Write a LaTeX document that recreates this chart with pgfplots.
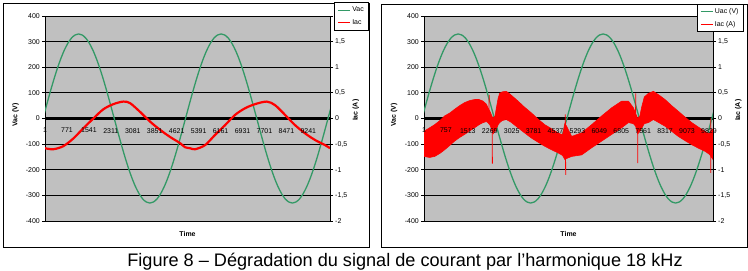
\documentclass[border=0pt]{standalone}
\usepackage{fontspec}
\setmainfont{Liberation Sans}
\usepackage{pgfplots}
\pgfplotsset{compat=1.18}
\usepackage{pgfplotstable}
\definecolor{plotgray}{RGB}{192,192,192}
\definecolor{vgreen}{RGB}{51,153,102}
\definecolor{ired}{RGB}{255,0,0}

\pgfplotstableread{
n v
-70 0
55 51.6
180 102.0
305 149.8
430 194.0
555 233.3
680 267.0
805 294.0
930 313.9
1055 325.9
1180 330
1305 325.9
1430 313.9
1555 294.0
1680 267.0
1805 233.3
1930 194.0
2055 149.8
2180 102.0
2305 51.6
2430 0
2555 -51.6
2680 -102.0
2805 -149.8
2930 -194.0
3055 -233.3
3180 -267.0
3305 -294.0
3430 -313.9
3555 -325.9
3680 -330
3805 -325.9
3930 -313.9
4055 -294.0
4180 -267.0
4305 -233.3
4430 -194.0
4555 -149.8
4680 -102.0
4805 -51.6
4930 0
5055 51.6
5180 102.0
5305 149.8
5430 194.0
5555 233.3
5680 267.0
5805 294.0
5930 313.9
6055 325.9
6180 330
6305 325.9
6430 313.9
6555 294.0
6680 267.0
6805 233.3
6930 194.0
7055 149.8
7180 102.0
7305 51.6
7430 0
7555 -51.6
7680 -102.0
7805 -149.8
7930 -194.0
8055 -233.3
8180 -267.0
8305 -294.0
8430 -313.9
8555 -325.9
8680 -330
8805 -325.9
8930 -313.9
9055 -294.0
9180 -267.0
9305 -233.3
9430 -194.0
9555 -149.8
9680 -102.0
9805 -51.6
9930 0
10055 51.6
}\greendata

\pgfplotstableread{
n i
0 -0.58
293 -0.60
643 -0.54
995 -0.39
1346 -0.19
1697 0.0
2048 0.18
2399 0.28
2750 0.33
2984 0.30
3335 0.13
3686 -0.06
4037 -0.22
4388 -0.36
4739 -0.48
4914 -0.56
5090 -0.58
5265 -0.60
5616 -0.52
5967 -0.32
6318 -0.13
6669 0.07
7020 0.20
7371 0.28
7781 0.33
8073 0.26
8424 0.07
8775 -0.13
9126 -0.29
9477 -0.42
9828 -0.52
10000 -0.58
}\redleft

% band of the right current: upper envelope forward, lower envelope back
\pgfplotstableread{
n i
0 -0.25
200 -0.18
370 -0.12
550 -0.04
713 0.05
900 0.11
1058 0.18
1230 0.25
1403 0.31
1580 0.35
1748 0.37
1900 0.37
2036 0.34
2150 0.28
2208 0.21
2290 0.12
2380 0.00
2450 0.05
2496 0.20
2560 0.40
2611 0.49
2700 0.52
2841 0.53
3000 0.46
3243 0.34
3470 0.22
3703 0.11
3930 -0.01
4163 -0.12
4400 -0.20
4623 -0.28
4780 -0.32
4860 -0.10
4920 -0.15
5095 -0.35
5440 -0.28
5785 -0.12
6131 0.05
6476 0.21
6821 0.34
7051 0.34
7223 0.21
7300 0.10
7372 0.00
7450 0.05
7500 0.20
7600 0.42
7740 0.49
7913 0.53
8100 0.46
8315 0.37
8545 0.25
8775 0.14
9000 0.03
9236 -0.08
9470 -0.17
9695 -0.25
9850 -0.30
9970 -0.20
9970 -0.80
9850 -0.70
9695 -0.64
9470 -0.58
9236 -0.51
9000 -0.43
8775 -0.35
8545 -0.25
8315 -0.15
8100 -0.08
7913 -0.02
7740 -0.08
7600 -0.10
7500 -0.20
7450 -0.25
7372 -0.30
7300 -0.15
7223 -0.10
7051 -0.08
6821 -0.18
6476 -0.31
6131 -0.44
5785 -0.57
5440 -0.71
5095 -0.74
4920 -0.78
4860 -0.80
4780 -0.72
4623 -0.67
4400 -0.61
4163 -0.54
3930 -0.46
3703 -0.38
3470 -0.28
3243 -0.18
3000 -0.07
2841 -0.02
2700 -0.04
2611 -0.08
2560 -0.12
2496 -0.20
2450 -0.25
2380 -0.30
2290 -0.14
2208 -0.08
2150 -0.06
2036 -0.08
1900 -0.12
1748 -0.18
1580 -0.24
1403 -0.31
1230 -0.37
1058 -0.44
900 -0.52
713 -0.61
550 -0.68
370 -0.74
200 -0.76
0 -0.74
}\bandright

\pgfplotsset{
  chartV/.style={
    scale only axis, height=205bp,
    ymin=-400, ymax=400,
    ytick={-400,-300,-200,-100,0,100,200,300,400},
    yticklabels={-400,-300,-200,-100,0,100,200,300,400},
    axis x line=middle, axis y line=left,
    axis line style={-, black, line width=0.8bp},
    every inner x axis line/.append style={-},
    every outer y axis line/.append style={-},
    x axis line style={line width=2.3bp},
    axis background/.style={fill=plotgray},
    ymajorgrids, grid style={black, line width=0.8bp},
    tick align=outside, major tick length=3bp,
    xtick=\empty, xticklabels={},
    ytick style={black, line width=0.8bp},
    tick label style={font=\fontsize{7}{8}\selectfont},
    yticklabel style={inner sep=0pt, anchor=east, xshift=-2bp},
    hide obscured x ticks=false, hide obscured y ticks=false,
    scaled ticks=false,
    every axis x label/.style={at={(axis description cs:0.5,-0.065)}, anchor=center, font=\fontsize{7}{8}\selectfont\bfseries},
    every axis y label/.style={at={(axis description cs:-0.1035,0.517)}, anchor=center, rotate=90, font=\fontsize{7}{8}\selectfont\bfseries},
    xlabel={Time}, ylabel={Vac (V)},
  },
  chartI/.style={
    scale only axis, height=205bp, axis on top,
    ymin=-2, ymax=2,
    ytick={-2,-1.5,-1,-0.5,0,0.5,1,1.5,2},
    yticklabels={-2,{-1,5},-1,{-0,5},0,{0,5},1,{1,5},{}},
    axis y line*=right, axis x line*=middle,
    axis line style={-, black, line width=0.8bp},
    every outer y axis line/.append style={-},
    every inner x axis line/.append style={draw=none},
    x axis line style={draw=none},
    tick align=outside, major tick length=3bp,
    ytick style={black, line width=0.8bp},
    xtick style={draw=none},
    scaled ticks=false,
    tick label style={font=\fontsize{7}{8}\selectfont},
    yticklabel style={inner sep=0pt, anchor=west, xshift=2bp},
    xticklabel style={anchor=north, inner sep=0pt, yshift=-6.5bp},
    hide obscured x ticks=false, hide obscured y ticks=false,
    every axis y label/.style={anchor=center, rotate=90, font=\fontsize{7}{8}\selectfont\bfseries},
    legend cell align=left,
    legend image code/.code={\draw[#1] (0bp,0bp) -- (12bp,0bp);},
    legend style={draw=black, line width=0.8bp, fill=white, font=\fontsize{7}{8}\selectfont,
      inner xsep=3.5bp, inner ysep=2.5bp, row sep=3.5bp,
      nodes={inner sep=1.5bp}},
  },
}

\begin{document}
\begin{tikzpicture}
\path[use as bounding box] (0,0) rectangle (748bp,271bp);
% frames
\draw[black, line width=0.8bp] (3.3bp,23.3bp) rectangle (369bp,267.7bp);
\draw[black, line width=0.8bp] (381bp,23.3bp) rectangle (747.5bp,267bp);

% ---------- left chart ----------
\begin{axis}[chartV, at={(45bp,50bp)}, anchor=south west, width=285bp,
  xmin=1, xmax=10000]
\addplot[vgreen, line width=1.3bp, smooth] table[x=n, y=v]{\greendata};
\end{axis}
\begin{axis}[chartI, at={(45bp,50bp)}, anchor=south west, width=285bp,
  xmin=1, xmax=10000,
  xtick={1,771,1541,2311,3081,3851,4621,5391,6161,6931,7701,8471,9241},
  xticklabels={1,771,1541,2311,3081,3851,4621,5391,6161,6931,7701,8471,9241},
  ylabel={Iac (A)},
  ylabel style={at={(axis description cs:1.091,0.54)}},
  legend style={at={(1.1375,1.066)}, anchor=north east}]
\addlegendimage{vgreen, line width=0.9bp}
\addlegendentry{Vac}
\addlegendimage{ired, line width=0.9bp}
\addlegendentry{Iac}
\addplot[ired, line width=2.2bp, smooth, forget plot] table[x=n, y=i]{\redleft};
\end{axis}

% ---------- right chart ----------
\begin{axis}[chartV, at={(424bp,50bp)}, anchor=south west, width=289bp,
  xmin=1, xmax=9970,
  every axis y label/.style={at={(axis description cs:-0.104,0.517)}, anchor=center, rotate=90, font=\fontsize{7}{8}\selectfont\bfseries}]
\addplot[vgreen, line width=1.3bp, smooth] table[x=n, y=v]{\greendata};
\end{axis}
\begin{axis}[chartI, at={(424bp,50bp)}, anchor=south west, width=289bp,
  xmin=1, xmax=9970,
  xtick={1,757,1513,2269,3025,3781,4537,5293,6049,6805,7561,8317,9073,9829},
  xticklabels={1,757,1513,2269,3025,3781,4537,5293,6049,6805,7561,8317,9073,9829},
  ylabel={Iac (A)},
  ylabel style={at={(axis description cs:1.0876,0.54)}},
  legend style={at={(1.107,1.059)}, anchor=north east}]
\addlegendimage{vgreen, line width=0.9bp}
\addlegendentry{Uac (V)}
\addlegendimage{ired, line width=0.9bp}
\addlegendentry{Iac (A)}
\addplot[ired, fill=ired, line width=0.6bp, forget plot] table[x=n, y=i]{\bandright};
\addplot[ired, line width=0.8bp, forget plot] coordinates {(2240,0.05) (2250,0.46)};
\addplot[ired, line width=0.8bp, forget plot] coordinates {(2350,0.0) (2360,-0.88)};
\addplot[ired, line width=0.8bp, forget plot] coordinates {(4875,0.08) (4888,-1.1)};
\addplot[ired, line width=0.8bp, forget plot] coordinates {(7300,0.1) (7305,0.49)};
\addplot[ired, line width=0.8bp, forget plot] coordinates {(7370,0.0) (7375,-0.87)};
\addplot[ired, line width=0.8bp, forget plot] coordinates {(9890,0.0) (9895,-1.06)};
\end{axis}

\node[anchor=base, font=\fontsize{18.2}{21}\selectfont] at (405bp,5bp)
  {Figure 8 – Dégradation du signal de courant par l'harmonique 18 kHz};
\end{tikzpicture}
\end{document}
